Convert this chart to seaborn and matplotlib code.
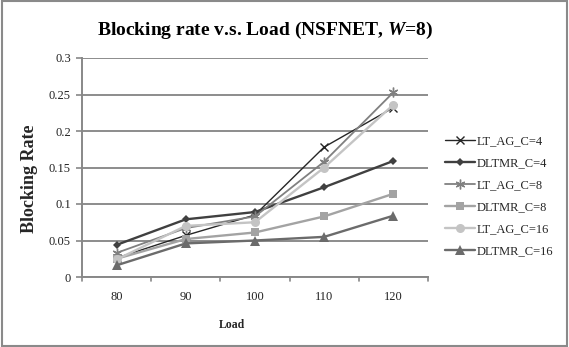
import matplotlib
matplotlib.use("Agg")
import matplotlib.pyplot as plt
import seaborn as sns
import numpy as np
from matplotlib.patches import Rectangle

loads = ["80", "90", "100", "110", "120"]
series_names = ["LT_AG_C=4", "DLTMR_C=4", "LT_AG_C=8", "DLTMR_C=8", "LT_AG_C=16", "DLTMR_C=16"]
lt_ag_c4 = [0.026, 0.057, 0.085, 0.178, 0.232]
dltmr_c4 = [0.044, 0.079, 0.089, 0.123, 0.159]
lt_ag_c8 = [0.033, 0.067, 0.083, 0.158, 0.253]
dltmr_c8 = [0.025, 0.052, 0.061, 0.083, 0.114]
lt_ag_c16 = [0.024, 0.070, 0.075, 0.150, 0.236]
dltmr_c16 = [0.016, 0.046, 0.050, 0.055, 0.084]
y_ticks = [0, 0.05, 0.1, 0.15, 0.2, 0.25, 0.3]

sns.set_style("white")
plt.rcParams['font.family'] = ['Liberation Serif', 'DejaVu Serif']
plt.rcParams['mathtext.fontset'] = 'custom'
plt.rcParams['mathtext.it'] = 'Liberation Serif:italic:bold'
plt.rcParams['mathtext.rm'] = 'Liberation Serif:bold'

fig = plt.figure(figsize=(5.69, 3.47), dpi=100)
ax = fig.add_axes([82/569, 1-277/347, (428-82)/569, (277-58)/347])

styles = [
    dict(color="#262626", marker="x", lw=1.0, ms=6, mew=1.0),
    dict(color="#404040", marker="D", lw=1.7, ms=4.5, mew=0),
    dict(color="#808080", marker=(6, 2, 0), lw=1.3, ms=7, mew=1.0),
    dict(color="#a3a3a3", marker="s", lw=1.7, ms=6, mew=0),
    dict(color="#c4c4c4", marker="o", lw=1.7, ms=6.5, mew=0),
    dict(color="#6b6b6b", marker="^", lw=1.7, ms=6.5, mew=0),
]
all_vals = [lt_ag_c4, dltmr_c4, lt_ag_c8, dltmr_c8, lt_ag_c16, dltmr_c16]

for name, vals, st in zip(series_names, all_vals, styles):
    sns.lineplot(x=loads, y=vals, ax=ax, label=name, color=st["color"],
                 marker=st["marker"], linewidth=st["lw"], markersize=st["ms"],
                 markeredgewidth=st["mew"], markeredgecolor=st["color"], zorder=3)

ax.set_xlim(-0.5, 4.5)
ax.set_ylim(0, 0.3)
ax.set_yticks(y_ticks)
ax.set_yticklabels(["0", "0.05", "0.1", "0.15", "0.2", "0.25", "0.3"])
ax.set_xticks(range(len(loads)))
ax.set_xticklabels(loads)
ax.tick_params(axis='x', length=0, labelsize=9, pad=10, colors="#222222")
ax.tick_params(axis='y', length=4, width=1.2, color="#888888", labelsize=9, pad=4, direction='out', left=True)
ax.tick_params(axis='y', labelcolor="#222222")
for xb in np.arange(-0.5, 5, 1):
    ax.plot([xb, xb], [0, -0.006], color="#888888", lw=1.2, clip_on=False, zorder=1)
ax.yaxis.grid(True, color="#8c8c8c", linewidth=1.4)
ax.set_axisbelow(True)
for s in ["top", "right"]:
    ax.spines[s].set_visible(False)
for s in ["left", "bottom"]:
    ax.spines[s].set_color("#888888")
    ax.spines[s].set_linewidth(1.4)
ax.set_xlabel("")
ax.set_ylabel("")

fig.text(232/569, 1-325/347, "Load", ha="center", va="center", fontsize=8.5, fontweight="bold")
fig.text(30/569, 1-179/347, "Blocking Rate", ha="center", va="center", rotation=90, fontsize=13, fontweight="bold")
fig.text(265/569, 1-30/347, r"Blocking rate v.s. Load (NSFNET, $W$=8)", ha="center", va="center", fontsize=14, fontweight="bold", color="black")

leg = ax.legend(loc="center left", bbox_to_anchor=(440/569, 1-196/347), bbox_transform=fig.transFigure,
                frameon=False, fontsize=9, handlelength=2.4, labelspacing=0.8, handletextpad=0.1, borderaxespad=0)

fig.add_artist(Rectangle((0.004, 0.004), 0.992, 0.992, transform=fig.transFigure, fill=False,
                         edgecolor="#8a8a8a", linewidth=1.5))

fig.savefig("out.png", dpi=100)
